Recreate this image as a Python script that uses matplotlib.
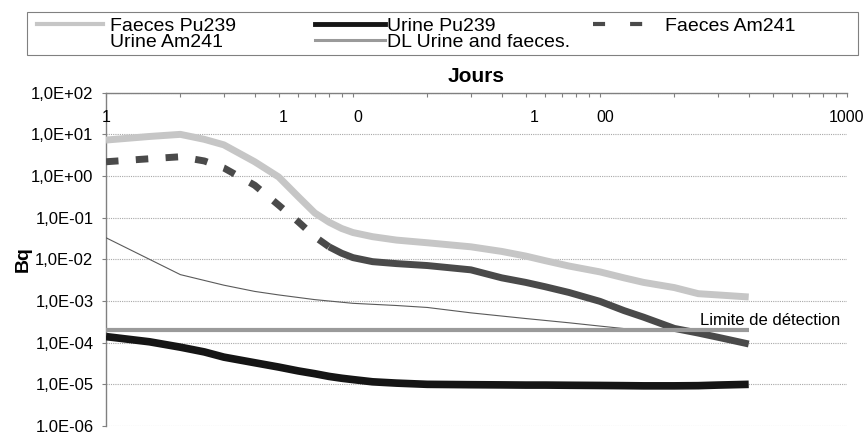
import matplotlib
matplotlib.use('Agg')
import matplotlib.pyplot as plt
import matplotlib.patches as patches
from matplotlib.lines import Line2D
from matplotlib.ticker import LogLocator, FuncFormatter, NullFormatter

plt.rcParams['font.family'] = ['Liberation Sans', 'DejaVu Sans']

# données (jours / Bq)
jours = [1, 1.5, 2, 2.5, 3, 4, 5, 6, 7, 8, 9, 10, 12, 15, 20, 30, 40, 50, 60, 75,
         100, 125, 150, 200, 250, 300, 400]
faeces_pu239 = [7.3, 8.9, 10, 7.6, 5.6, 2.2, 0.95, 0.32, 0.13, 0.078, 0.055, 0.044,
                0.035, 0.029, 0.025, 0.020, 0.0155, 0.012, 0.0093, 0.0069, 0.005,
                0.0036, 0.0028, 0.0021, 0.0015, 0.0014, 0.00125]
faeces_am241 = [2.2, 2.6, 2.9, 2.3, 1.56, 0.6, 0.2, 0.08, 0.035, 0.02, 0.014, 0.011,
                0.0088, 0.0079, 0.0071, 0.0056, 0.0036, 0.0028, 0.0022, 0.0016,
                0.00098, 0.00059, 0.00041, 0.00022, 0.00017, 0.000135, 0.000093]
urine_pu239 = [1.4e-4, 1.05e-4, 7.8e-5, 6e-5, 4.5e-5, 3.3e-5, 2.6e-5, 2.1e-5, 1.8e-5,
               1.55e-5, 1.4e-5, 1.3e-5, 1.15e-5, 1.07e-5, 1.0e-5, 9.8e-6, 9.7e-6,
               9.6e-6, 9.6e-6, 9.5e-6, 9.4e-6, 9.3e-6, 9.2e-6, 9.2e-6, 9.3e-6, 9.6e-6,
               1.0e-5]
jours_uam = [1, 2, 3, 4, 5, 7, 10, 15, 20, 30, 50, 75, 100, 150]
urine_am241 = [0.033, 0.0043, 0.0024, 0.0017, 0.0014, 0.00108, 0.00088, 0.00078,
               0.0007, 0.00052, 0.00038, 0.0003, 0.00025, 0.000195]
jours_dl = [1, 400]
dl = [2e-4, 2e-4]
n_tirets = 10  # Am241 fèces : tirets jusqu'à 8 jours

# étiquettes de l'axe des jours (telles qu'imprimées)
etiq_pos = [1, 5.2, 10.5, 54, 105, 1000]
etiq_txt = ['1', '1', '0', '1', '00', '1000']

c_fpu = '#c6c6c6'
c_fam = '#4a4a4a'
c_upu = '#151515'
c_uam = '#5a5a5a'
c_dl = '#9a9a9a'

fig = plt.figure(figsize=(8.67, 4.32), dpi=100)
ax = fig.add_axes([106 / 867, 1 - 426 / 432, 741 / 867, 333.3 / 432])

ax.plot(jours, faeces_pu239, color=c_fpu, lw=5, solid_capstyle='butt',
        solid_joinstyle='round', zorder=3)
ax.plot(jours, urine_pu239, color=c_upu, lw=5.5, solid_capstyle='butt',
        solid_joinstyle='round', zorder=3)
ax.plot(jours[:n_tirets], faeces_am241[:n_tirets], color=c_fam, lw=5,
        linestyle=(0, (1.8, 2.5)), dash_capstyle='butt', zorder=3)
ax.plot(jours[n_tirets - 1:], faeces_am241[n_tirets - 1:], color=c_fam, lw=5,
        solid_capstyle='butt', solid_joinstyle='round', zorder=3)
ax.plot(jours_uam, urine_am241, color=c_uam, lw=0.8, zorder=3)
ax.plot(jours_dl, dl, color=c_dl, lw=3, solid_capstyle='butt', zorder=4)

ax.text(254, 3.5e-4, 'Limite de détection', fontsize=12, ha='left', va='center', zorder=5)

ax.set_xscale('log')
ax.set_yscale('log')
ax.set_xlim(1, 1000)
ax.set_ylim(1e-6, 1e2)

ax.xaxis.tick_top()
ax.xaxis.set_major_locator(LogLocator(base=10))
ax.xaxis.set_minor_locator(LogLocator(base=10, subs=range(2, 10)))
ax.xaxis.set_major_formatter(NullFormatter())
ax.xaxis.set_minor_formatter(NullFormatter())
ax.tick_params(axis='x', which='both', direction='in', length=3, width=0.8,
               color='#808080', top=True, bottom=False)
for p, t in zip(etiq_pos, etiq_txt):
    ax.text(p, 0.927, t, transform=ax.get_xaxis_transform(), ha='center', va='center',
            fontsize=11.5)

ax.yaxis.set_major_locator(LogLocator(base=10, numticks=20))
ax.yaxis.set_minor_locator(LogLocator(base=10, subs=[]))
ax.yaxis.set_major_formatter(FuncFormatter(lambda v, p: f'{v:.1E}'.replace('.', ',')))
ax.tick_params(axis='y', which='major', direction='out', length=3, width=0.8,
               color='#808080', labelsize=12, pad=6)
ax.yaxis.grid(True, which='major', linestyle=(0, (1, 1)), color='#a8a8a8', lw=0.8)

for s in ['right', 'bottom']:
    ax.spines[s].set_visible(False)
for s in ['left', 'top']:
    ax.spines[s].set_color('#808080')
    ax.spines[s].set_linewidth(1)

ax.text(0.5, 1.032, 'Jours', transform=ax.transAxes, ha='center', va='baseline',
        fontsize=15, fontweight='bold')
ax.set_ylabel('Bq', fontsize=14, fontweight='bold')
ax.yaxis.set_label_coords(-0.1, 0.5)

# légende en trois colonnes dans un cadre
h_fpu = Line2D([], [], color=c_fpu, lw=3)
h_uam = Line2D([], [], color='none', lw=1)
h_upu = Line2D([], [], color=c_upu, lw=3.5)
h_dl = Line2D([], [], color=c_dl, lw=2.2)
h_fam = Line2D([], [], color=c_fam, lw=3, linestyle=(0, (2.9, 6)), dash_capstyle='butt')

opts = dict(loc='upper left', bbox_transform=fig.transFigure, frameon=False,
            borderpad=0, borderaxespad=0, fontsize=14, labelspacing=-0.05)
haut = 1 - 17 / 432
fig.legend([h_fpu, h_uam], ['Faeces Pu239', 'Urine Am241'],
           bbox_to_anchor=(37 / 867, haut), handlelength=3.4,
           handletextpad=0.36, **opts)
fig.legend([h_upu, h_dl], ['Urine Pu239', 'DL Urine and faeces.'],
           bbox_to_anchor=(315 / 867, haut), handlelength=3.6,
           handletextpad=0.1, **opts)
fig.legend([h_fam], ['Faeces Am241'],
           bbox_to_anchor=(593 / 867, haut), handlelength=3.1,
           handletextpad=0.62, **opts)
cadre = patches.Rectangle((27 / 867, 1 - 55 / 432), 831 / 867, 43 / 432,
                          transform=fig.transFigure, fill=False,
                          edgecolor='#808080', lw=0.8)
fig.add_artist(cadre)

fig.savefig('out.png', dpi=100)
